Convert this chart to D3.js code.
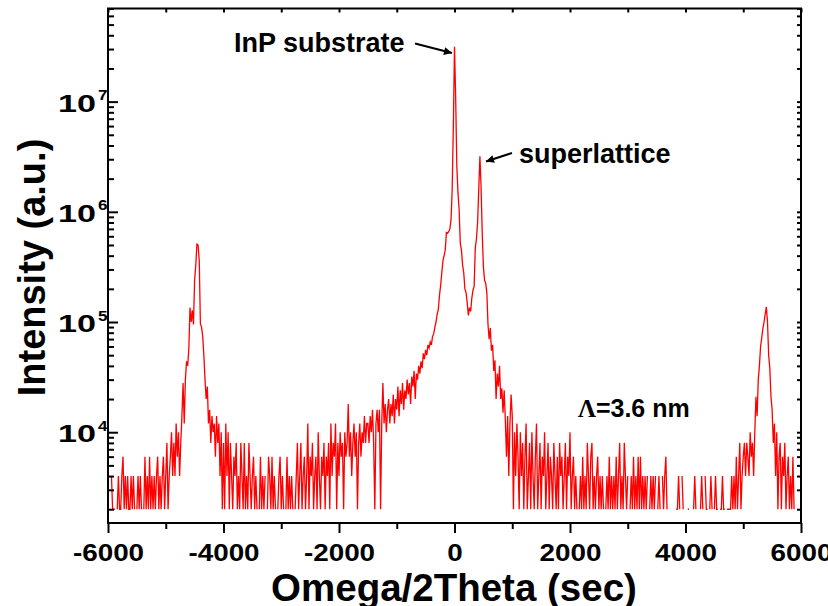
<!DOCTYPE html>
<html>
<head>
<meta charset="utf-8">
<script src="https://d3js.org/d3.v7.min.js"></script>
<style>
  body { margin: 0; background: #fff; }
  svg text { font-family: "Liberation Sans", Arial, sans-serif; font-weight: bold; fill: #000; }
  .axis line { stroke: #000; stroke-width: 2; }
  .axis path { display: none; }
</style>
</head>
<body>
<div id="chart"></div>
<script>
// omega/2theta scan, 20 sec steps, counts (0 = no counts, line breaks)
const scanStep = 20;

const bgLeftStart = -5940;
const bgLeft = [
  4000,2000,2000,2000,0,2000,4000,2000,2000,4000,
  6000,2000,4000,2000,4000,2000,2000,4000,2000,4000,
  2000,0,2000,4000,2000,4000,2000,0,2000,6000,
  2000,4000,2000,6000,2000,4000,2000,4000,2000,4000,
  6000,2000,4000,2000,4000,6000,2000,4000,8000,2000,
  4000,6000,10000,4000,8000,4000,12000
];

const satMinusStart = -4800;
const satMinus = [
  6000,10000,4000,8000,14000,28000,12000,30000,44000,40000,
  58000,135000,100000,128000,95000,240000,330000,510000,500000,360000,
  96000,90000,74000,50000,30000,20000,26000,12000,16000,8000,
  14000,10000,12000,6000,14000,8000,12000,4000,10000,2000,
  8000,2000,12000,4000,10000
];

const bgMidStart = -3900;
const bgMid = [
  2000,8000,4000,2000,6000,4000,8000,2000,4000,2000,
  8000,4000,2000,8000,2000,4000,2000,8000,4000,2000,
  4000,6000,2000,4000,2000,0,2000,6000,2000,4000,
  2000,4000,0,2000,6000,4000,2000,6000,2000,4000,
  2000,0,2000,4000,6000,2000,4000,2000,0,2000,
  6000,2000,4000,2000,4000,2000,0,2000,4000,8000,
  2000,4000,8000,2000,4000,6000,2000,4000,12000,2000,
  6000,4000,8000,2000,4000,6000,2000,10000,4000,2000,
  6000,4000,8000,2000,6000,4000,8000,2000,12000,4000,
  8000,6000,12000,2000,8000,4000,10000,6000,8000,2000,
  10000,6000,8000,18000,6000,10000,4000,8000,12000,6000,
  10000,2000,8000,12000,6000,10000,8000,14000,8000,12000
];

const centralStart = -1500;
const central = [
  12000,8000,14000,10000,16000,8000,2000,12000,16000,10000,
  16000,2000,12000,28000,12000,18000,10000,16000,20000,12000,
  18000,14000,22000,12000,20000,16000,26000,14000,24000,18000,
  28000,16000,24000,20000,30000,22000,28000,18000,32000,26000,
  36000,20000,34000,30000,40000,34000,44000,38000,52000,46000,
  56000,50000,62000,58000,66000,62000,74000,78000,90000,100000,
  118000,130000,175000,215000,280000,360000,400000,450000,650000,640000,
  660000,700000,850000,1.6e6,6e6,3.15e7,1.1e7,2.6e6,1.5e6,1.05e6,
  520000,450000,330000,280000,200000,185000,150000,115000,135000,125000,
  165000,195000,210000,470000,570000,800000,1.6e6,3.2e6,1.7e6,650000,
  320000,240000,225000,185000,95000,70000,88000,55000,62000,36000,
  45000,20000,34000,26000,40000,20000,25000,15000,24000,13000,
  6000,14000,4000,12000,22000,14000,2000,10000,4000,12000,
  6000,2000,10000,4000,8000,2000,6000,12000,2000,4000,
  8000,2000,10000,4000,2000,6000,12000,2000,4000,8000
];

const bgRightStart = 1500;
const bgRight = [
  2000,6000,4000,10000,2000,4000,8000,2000,6000,4000,
  2000,8000,4000,2000,6000,2000,8000,4000,6000,2000,
  4000,8000,2000,6000,4000,10000,2000,4000,6000,2000,
  4000,2000,0,2000,4000,2000,6000,2000,4000,2000,
  8000,4000,2000,6000,8000,2000,4000,2000,4000,6000,
  2000,4000,2000,4000,2000,0,2000,4000,2000,6000,
  2000,4000,2000,4000,2000,6000,2000,4000,8000,2000,
  4000,2000,8000,4000,2000,4000,0,2000,4000,2000,
  6000,2000,4000,2000,6000,2000,6000,2000,4000,2000,
  4000,2000,4000,0,2000,4000,2000,4000,2000,4000,
  0,2000,4000,2000,0,4000,2000,4000,6000,2000,
  0,0,2000,0,0,0,0,2000,2000,4000,
  2000,0,4000,2000,0,0,0,2000,2000,0,
  0,0,2000,4000,2000,0,2000,0,2000,4000,
  2000,0,4000,2000,2000,0,2000,4000,2000,0,
  2000,4000,2000,2000,0,2000,2000,4000,2000,2000,
  0,2000,2000,2000,2000,4000,2000,4000,2000,6000,
  2000,4000,8000,2000,4000,6000,8000,4000,8000,6000
];

const satPlusStart = 5100;
const satPlus = [
  4000,10000,6000,8000,4000,10000,21000,14000,30000,40000,
  60000,72000,87000,100000,118000,137000,100000,50000,38000,21000,
  16000,8000,12000,4000,10000,2000,6000,8000,2000,6000,
  4000,8000,2000,4000,6000,2000,4000,2000,6000,2000
];

const xMajorTicks = [-6000, -4000, -2000, 0, 2000, 4000, 6000];
const xMinorTicks = [-5000, -3000, -1000, 1000, 3000, 5000];
const yMajorTicks = [1e4, 1e5, 1e6, 1e7];
const yTickExponents = ["4", "5", "6", "7"];

const width = 828, height = 606;
const margin = { top: 8.5, right: 27, bottom: 83, left: 108 };
const innerW = width - margin.left - margin.right;
const innerH = height - margin.top - margin.bottom;

const points = [];
[[bgLeftStart, bgLeft], [satMinusStart, satMinus], [bgMidStart, bgMid],
 [centralStart, central], [bgRightStart, bgRight], [satPlusStart, satPlus]]
  .forEach(([start, vals]) => vals.forEach((v, i) => points.push({ x: start + i * scanStep, v: v })));

const svg = d3.select("#chart").append("svg")
  .attr("width", width)
  .attr("height", height);

const g = svg.append("g")
  .attr("transform", `translate(${margin.left},${margin.top})`);

const x = d3.scaleLinear().domain([-6000, 6000]).range([0, innerW]);
const y = d3.scaleLog().domain([1500, 7e7]).range([innerH, 0]);

const yMinorTicks = y.ticks().filter(t => !yMajorTicks.includes(t));

// data line
const line = d3.line()
  .defined(d => d.v > 0)
  .x(d => x(d.x))
  .y(d => y(d.v));

g.append("path")
  .datum(points)
  .attr("fill", "none")
  .attr("stroke", "#ff0000")
  .attr("stroke-width", 1.3)
  .attr("d", line);

// bottom axis, ticks outward
const xAxis = g.append("g")
  .attr("class", "axis")
  .attr("transform", `translate(0,${innerH})`)
  .call(d3.axisBottom(x).tickValues(xMajorTicks).tickSize(10).tickSizeOuter(0)
    .tickFormat(d => String(d)));
xAxis.selectAll("text")
  .attr("dy", null)
  .attr("y", 38.5)
  .attr("font-size", 24)
  .attr("transform", "scale(1.16,1)");

g.append("g")
  .attr("class", "axis")
  .attr("transform", `translate(0,${innerH})`)
  .call(d3.axisBottom(x).tickValues(xMinorTicks).tickSize(6).tickSizeOuter(0).tickFormat(""));

// top axis, small inward ticks
g.append("g")
  .attr("class", "axis")
  .call(d3.axisTop(x).tickValues(xMajorTicks.concat(xMinorTicks)).tickSize(-4).tickSizeOuter(0).tickFormat(""));

// left axis, inward ticks
g.append("g")
  .attr("class", "axis")
  .call(d3.axisLeft(y).tickValues(yMajorTicks).tickSize(-10).tickSizeOuter(0).tickFormat(""));
g.append("g")
  .attr("class", "axis")
  .call(d3.axisLeft(y).tickValues(yMinorTicks).tickSize(-6).tickSizeOuter(0).tickFormat(""));

// right axis
g.append("g")
  .attr("class", "axis")
  .attr("transform", `translate(${innerW},0)`)
  .call(d3.axisRight(y).tickValues(yMajorTicks.concat(yMinorTicks)).tickSize(-4).tickSizeOuter(0).tickFormat(""));

// y tick labels 10^n
const yLab = g.selectAll(".ylab")
  .data(yMajorTicks)
  .enter()
  .append("g")
  .attr("class", "ylab")
  .attr("transform", d => `translate(-50,${y(d) + 10})`);
yLab.append("text")
  .attr("font-size", 23)
  .attr("textLength", 38)
  .attr("lengthAdjust", "spacingAndGlyphs")
  .text("10");
yLab.append("text")
  .attr("x", 40)
  .attr("y", -11.5)
  .attr("font-size", 14)
  .attr("textLength", 9.5)
  .attr("lengthAdjust", "spacingAndGlyphs")
  .text((d, i) => yTickExponents[i]);

// frame
g.append("rect")
  .attr("width", innerW)
  .attr("height", innerH)
  .attr("fill", "none")
  .attr("stroke", "#000")
  .attr("stroke-width", 2);

// axis titles
svg.append("text")
  .attr("transform", "translate(45,267.5) rotate(-90)")
  .attr("text-anchor", "middle")
  .attr("font-size", 38)
  .text("Intensity (a.u.)");

svg.append("text")
  .attr("x", 454)
  .attr("y", 601)
  .attr("text-anchor", "middle")
  .attr("font-size", 38.5)
  .text("Omega/2Theta (sec)");

// annotations
svg.append("defs").append("marker")
  .attr("id", "head")
  .attr("viewBox", "0 0 10 10")
  .attr("refX", 10).attr("refY", 5)
  .attr("markerWidth", 5).attr("markerHeight", 4)
  .attr("markerUnits", "strokeWidth")
  .attr("orient", "auto")
  .append("path")
  .attr("d", "M0,0L10,5L0,10Z")
  .attr("fill", "#000");

svg.append("text")
  .attr("x", 234)
  .attr("y", 51.5)
  .attr("font-size", 27)
  .text("InP substrate");
svg.append("line")
  .attr("x1", 415).attr("y1", 43.5)
  .attr("x2", 452).attr("y2", 53)
  .attr("stroke", "#000").attr("stroke-width", 2)
  .attr("marker-end", "url(#head)");

svg.append("text")
  .attr("x", 519)
  .attr("y", 163)
  .attr("font-size", 27)
  .text("superlattice");
svg.append("line")
  .attr("x1", 512).attr("y1", 153)
  .attr("x2", 486).attr("y2", 161.5)
  .attr("stroke", "#000").attr("stroke-width", 2)
  .attr("marker-end", "url(#head)");

const lam = svg.append("text")
  .attr("x", 578)
  .attr("y", 416.5)
  .attr("font-size", 25);
lam.append("tspan")
  .attr("font-family", "'Liberation Serif', serif")
  .text("Λ");
lam.append("tspan").text("=3.6 nm");
</script>
</body>
</html>
